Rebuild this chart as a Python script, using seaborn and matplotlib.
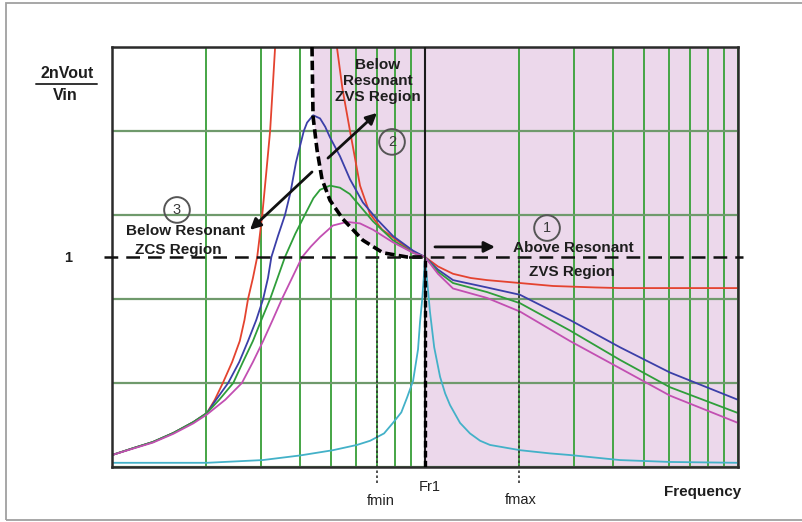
import numpy as np
import pandas as pd
import seaborn as sns
import matplotlib.pyplot as plt
from matplotlib.lines import Line2D
from matplotlib.patches import Rectangle
from matplotlib.ticker import LogLocator, NullFormatter

# normalised switching frequency (f / Fr1) and gain 2nVout/Vin
RED_F = [0.100, 0.117, 0.135, 0.157, 0.182, 0.201, 0.213, 0.226, 0.242, 0.256, 0.265, 0.272,
         0.282, 0.291, 0.2965, 0.302, 0.311, 0.320, 0.326, 0.332, 0.42,
         0.523, 0.545, 0.576, 0.620, 0.667, 0.730, 0.814, 0.900, 1.0,
         1.10, 1.229, 1.40, 1.578, 2.012, 2.564, 3.50, 4.198, 10.0]
RED_G = [0.057, 0.090, 0.119, 0.162, 0.214, 0.257, 0.320, 0.40, 0.50, 0.60, 0.70, 0.80,
         0.90, 1.00, 1.10, 1.20, 1.40, 1.60, 1.80, 2.00, 3.50,
         2.00, 1.80, 1.60, 1.34, 1.205, 1.13, 1.08, 1.03, 1.0,
         0.955, 0.92, 0.90, 0.89, 0.876, 0.862, 0.855, 0.852, 0.852]

BLUE_F = [0.100, 0.117, 0.135, 0.157, 0.182, 0.201, 0.215, 0.235, 0.255, 0.272, 0.289, 0.304,
          0.315, 0.323, 0.339, 0.357, 0.372, 0.387, 0.399, 0.410, 0.420, 0.439,
          0.462, 0.480, 0.497, 0.535, 0.576, 0.633, 0.702, 0.790, 0.916, 1.0,
          1.10, 1.229, 1.578, 2.012, 2.904, 4.198, 6.06, 10.0]
BLUE_G = [0.057, 0.090, 0.119, 0.162, 0.214, 0.257, 0.320, 0.40, 0.50, 0.60, 0.70, 0.80,
          0.90, 1.00, 1.10, 1.20, 1.31, 1.45, 1.53, 1.60, 1.64, 1.675,
          1.66, 1.62, 1.57, 1.48, 1.37, 1.26, 1.18, 1.10, 1.03, 1.0,
          0.94, 0.89, 0.855, 0.82, 0.70, 0.57, 0.45, 0.32]

GREEN_F = [0.100, 0.117, 0.135, 0.157, 0.182, 0.201, 0.220, 0.244, 0.262, 0.282, 0.300, 0.320,
           0.338, 0.357, 0.385, 0.413, 0.440, 0.462, 0.497, 0.535, 0.575, 0.606, 0.682,
           0.790, 0.916, 1.0, 1.10, 1.229, 1.578, 2.012, 2.904, 4.198, 6.06, 10.0]
GREEN_G = [0.057, 0.090, 0.119, 0.162, 0.214, 0.257, 0.320, 0.40, 0.50, 0.60, 0.70, 0.80,
           0.90, 1.00, 1.11, 1.20, 1.28, 1.32, 1.34, 1.33, 1.30, 1.26, 1.17,
           1.08, 1.02, 1.0, 0.93, 0.876, 0.833, 0.78, 0.65, 0.51, 0.38, 0.257]

PINK_F = [0.100, 0.117, 0.135, 0.157, 0.182, 0.201, 0.230, 0.260, 0.282, 0.304, 0.326, 0.349,
          0.376, 0.405, 0.432, 0.462, 0.508, 0.563, 0.620, 0.682, 0.790, 0.916, 1.0,
          1.10, 1.229, 1.578, 2.012, 2.904, 4.198, 6.06, 10.0]
PINK_G = [0.057, 0.088, 0.116, 0.158, 0.208, 0.250, 0.320, 0.40, 0.50, 0.60, 0.70, 0.80,
          0.90, 1.00, 1.05, 1.095, 1.15, 1.167, 1.16, 1.13, 1.07, 1.02, 1.0,
          0.92, 0.85, 0.805, 0.74, 0.60, 0.47, 0.34, 0.21]

CYAN_F = [0.10, 0.201, 0.303, 0.399, 0.508, 0.606, 0.668, 0.740, 0.790, 0.840, 0.876, 0.916,
          0.950, 0.964, 0.980, 0.993, 1.0, 1.01, 1.037, 1.07, 1.117, 1.16, 1.202, 1.294,
          1.392, 1.50, 1.613, 2.012, 2.50, 2.904, 4.198, 6.06, 10.0]
CYAN_G = [0.02, 0.02, 0.033, 0.055, 0.08, 0.105, 0.125, 0.16, 0.21, 0.26, 0.33, 0.41,
          0.56, 0.69, 0.80, 0.92, 1.0, 0.93, 0.74, 0.57, 0.43, 0.35, 0.295, 0.21,
          0.16, 0.125, 0.105, 0.08, 0.065, 0.057, 0.033, 0.024, 0.02]

# ZVS / ZCS boundary (dashed)
BOUND_F = [0.4355, 0.4388, 0.4519, 0.4688, 0.4971, 0.547, 0.633, 0.734, 0.876, 1.0]
BOUND_G = [2.0, 1.67, 1.51, 1.37, 1.27, 1.18, 1.08, 1.02, 1.0, 1.0]

FMIN, FR1, FMAX = 0.7, 1.0, 2.0
CURVE_COLORS = {"red": "#e4432f", "blue": "#3b3fa8", "green": "#2f9e3a",
                "pink": "#c24fb2", "cyan": "#43b1c8"}

curves = [("red", RED_F, RED_G), ("blue", BLUE_F, BLUE_G), ("green", GREEN_F, GREEN_G),
          ("pink", PINK_F, PINK_G), ("cyan", CYAN_F, CYAN_G)]
df = pd.concat([pd.DataFrame({"f": f, "gain": g, "curve": name}) for name, f, g in curves],
               ignore_index=True)

sns.set_style("white")
plt.rcParams["font.family"] = ["Liberation Sans", "DejaVu Sans"]

fig = plt.figure(figsize=(8.02, 5.22), dpi=100)
ax = fig.add_axes([112 / 802, 55 / 522, 626 / 802, 420 / 522])
ax.set_xscale("log")
ax.set_xlim(0.1, 10)
ax.set_ylim(0, 2)

PINK_BG = "#ecd8eb"
ax.fill_between(BOUND_F, BOUND_G, 2.0, color=PINK_BG, lw=0, zorder=0.2)
ax.axvspan(FR1, 10, color=PINK_BG, lw=0, zorder=0.2)

# grid
ax.set_yticks([0, 0.4, 0.8, 1.2, 1.6, 2.0])
ax.xaxis.set_major_locator(LogLocator(base=10))
ax.xaxis.set_minor_locator(LogLocator(base=10, subs=np.arange(2, 10)))
ax.xaxis.set_minor_formatter(NullFormatter())
ax.grid(axis="y", color="#6f9a6c", lw=1.6)
ax.grid(axis="x", which="both", color="#45a545", lw=1.4)
ax.set_axisbelow("line")
ax.tick_params(which="both", length=0, labelleft=False, labelbottom=False)
for s in ax.spines.values():
    s.set_color("#2b2b2b")
    s.set_linewidth(1.8)

sns.lineplot(data=df, x="f", y="gain", hue="curve", palette=CURVE_COLORS,
             estimator=None, sort=False, lw=1.3, legend=False, ax=ax, zorder=2)
ax.set_xlabel("")
ax.set_ylabel("")

# boundary and reference lines
ax.plot(BOUND_F, BOUND_G, color="black", lw=2.6, ls=(0, (2.6, 1.2)), zorder=4)
ax.axhline(1.0, xmin=-0.012, xmax=1.008, color="#111111", lw=1.8,
           ls=(0, (5.5, 3.2)), clip_on=False, zorder=4)
ax.axvline(FR1, color="#1a1a1a", lw=1.5, zorder=4)
ax.plot([FR1, FR1], [0, 1], color="black", lw=2.4, ls=(0, (2, 1)), zorder=4)
for fx in (FMIN, FMAX):
    ax.plot([fx, fx], [-0.075, 1.0], color="#333333", lw=1.2, ls=(0, (1.5, 1.5)),
            clip_on=False, zorder=4)

# text
bold = dict(fontsize=11, fontweight="bold", color="#1e1e1e", zorder=6)
ax.text(0.708, 1.838, "Below\nResonant\nZVS Region", ha="center", va="center",
        linespacing=1.15, **bold)
ax.text(0.1723, 1.124, "Below Resonant", ha="center", va="center", **bold)
ax.text(0.1626, 1.033, "ZCS Region", ha="center", va="center", **bold)
ax.text(2.971, 1.043, "Above Resonant", ha="center", va="center", **bold)
ax.text(2.95, 0.929, "ZVS Region", ha="center", va="center", **bold)

circ = dict(fontsize=10.5, color="#3a3a3a", ha="center", va="center", zorder=6,
            bbox=dict(boxstyle="circle,pad=0.4", fc="none", ec="#555555", lw=1.4))
ax.text(2.454, 1.138, "1", **circ)
ax.text(0.7845, 1.548, "2", **circ)
ax.text(0.1613, 1.224, "3", **circ)

arrow = dict(arrowstyle="-|>", color="#111111", lw=2.0, mutation_scale=16,
             shrinkA=0, shrinkB=0)
ax.annotate("", xy=(1.673, 1.048), xytext=(1.076, 1.048), arrowprops=arrow, zorder=6)
ax.annotate("", xy=(0.7022, 1.686), xytext=(0.4898, 1.471), arrowprops=arrow, zorder=6)
ax.annotate("", xy=(0.276, 1.129), xytext=(0.4355, 1.405), arrowprops=arrow, zorder=6)

# labels outside the plot area
fig.text(68 / 802, 1 - 258 / 522, "1", ha="center", va="center", fontsize=10.5,
         fontweight="bold", color="#1e1e1e")
fig.text(67 / 802, 1 - 73 / 522, "2nVout", ha="center", va="center", fontsize=11.5,
         fontweight="bold", color="#1e1e1e")
fig.add_artist(Line2D([36 / 802, 97 / 802], [1 - 84 / 522] * 2, color="#333333", lw=1.4))
fig.text(65 / 802, 1 - 95 / 522, "Vin", ha="center", va="center", fontsize=11.5,
         fontweight="bold", color="#1e1e1e")
fig.text(381 / 802, 1 - 501 / 522, "fmin", ha="center", va="center", fontsize=10.5,
         color="#222222")
fig.text(430 / 802, 1 - 487 / 522, "Fr1", ha="center", va="center", fontsize=10.5,
         color="#222222")
fig.text(521 / 802, 1 - 500 / 522, "fmax", ha="center", va="center", fontsize=10.5,
         color="#222222")
fig.text(703 / 802, 1 - 492 / 522, "Frequency", ha="center", va="center", fontsize=11,
         fontweight="bold", color="#1e1e1e")

# outer frame of the picture
fig.add_artist(Rectangle((6 / 802, 2 / 522), 1.2, 517 / 522, transform=fig.transFigure,
                         fill=False, ec="#a0a0a0", lw=1.3))

fig.savefig("out.png", dpi=100)
